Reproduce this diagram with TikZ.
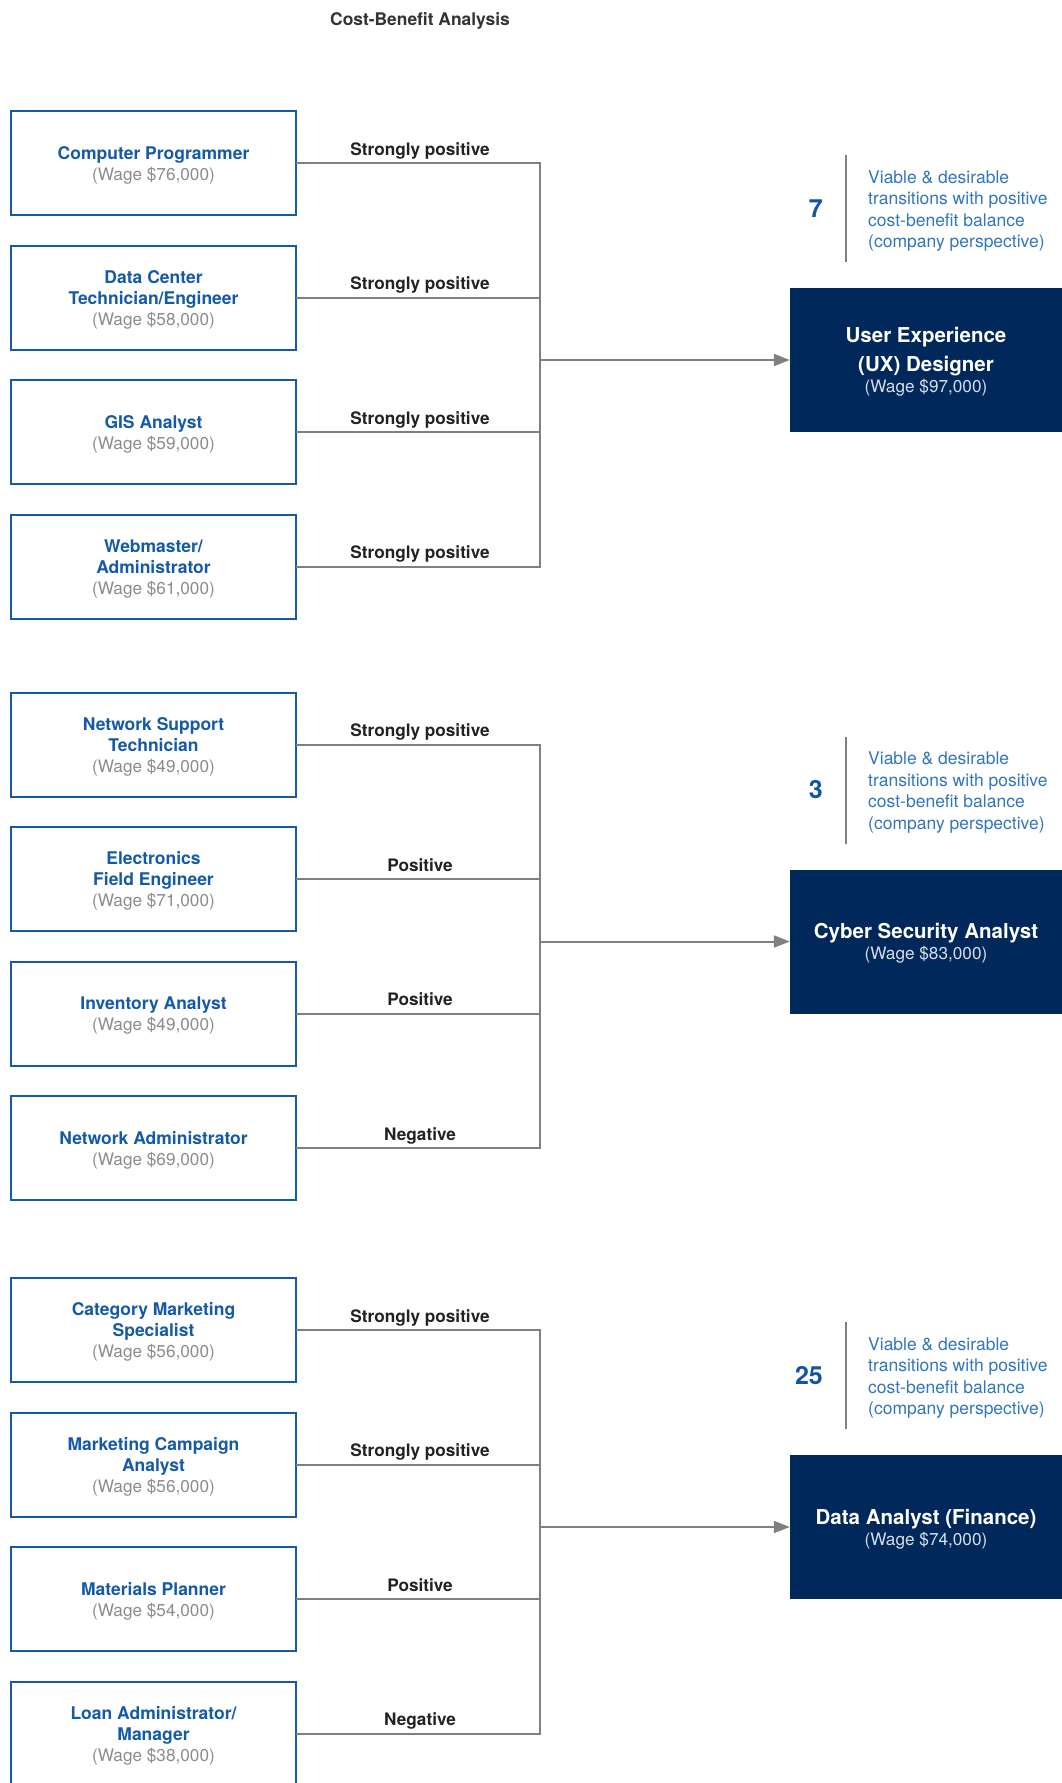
\documentclass[tikz,border=0pt]{standalone}
\usepackage{fontspec}
\setmainfont{TeX Gyre Heros}
\usetikzlibrary{arrows.meta, positioning}
\definecolor{jobblue}{RGB}{20,90,165}
\definecolor{navy}{RGB}{0,40,90}
\definecolor{wagegray}{RGB}{140,140,140}
\definecolor{lightwage}{RGB}{215,222,235}
\definecolor{linkgray}{RGB}{128,128,128}
\definecolor{infoblue}{RGB}{50,118,188}
\definecolor{numblue}{RGB}{15,85,160}
\definecolor{labelcolor}{RGB}{34,34,34}
\definecolor{titlecolor}{RGB}{51,51,51}
\newcommand{\jobfont}{\fontsize{17.5}{21}\selectfont\lineskiplimit-50pt\relax}
\newcommand{\targetfont}{\fontsize{20.5}{29.5}\selectfont\bfseries\lineskiplimit-50pt\relax}
\tikzset{
  jobbox/.style = {draw=jobblue, line width=2pt, minimum width=285pt, minimum height=104pt,
                   align=center, inner sep=0pt, font=\jobfont},
  target/.style = {fill=navy, minimum width=272pt, minimum height=144pt, align=center,
                   inner sep=0pt, text=white, font=\targetfont},
  link/.style   = {draw=linkgray, line width=2pt, line cap=rect},
  arrow/.style  = {link, -{Triangle[length=16pt, width=12pt]}},
  rating/.style = {anchor=base, inner sep=0pt, text=labelcolor,
                   font=\fontsize{17.2}{21}\selectfont\bfseries},
  count/.style  = {anchor=east, inner sep=0pt, text=numblue,
                   font=\fontsize{25}{25}\selectfont\bfseries},
  note/.style   = {anchor=west, align=left, inner sep=0pt, text=infoblue,
                   font=\fontsize{17.5}{21.5}\selectfont},
  sep/.style    = {draw=linkgray, line width=2pt},
  heading/.style= {text=titlecolor, font=\fontsize{17.4}{20}\selectfont\bfseries},
}
\newcommand{\role}[1]{{\vrule width 0pt height 17.7pt\bfseries\color{jobblue}#1}}
\newcommand{\pay}[1]{{\fontsize{17.2}{21}\selectfont\color{wagegray}(Wage \$#1)}}
\newcommand{\tpay}[1]{{\fontsize{17.2}{21}\selectfont\mdseries\color{lightwage}(Wage \$#1)}}
\newcommand{\tstrut}{\vrule width 0pt height 19pt\relax}
\newcommand{\notetext}{Viable \& desirable\\transitions with positive\\cost-benefit balance\\(company perspective)}

\begin{document}
\begin{tikzpicture}[x=1pt, y=-1pt]
  \fill[white] (0,0) rectangle (1062,1783);
  \useasboundingbox (0,0) rectangle (1062,1783);
  \node[heading] (title) at (420,21.3) {Cost-Benefit Analysis};

  % group 1: UX designer
  \foreach \i/\who/\rate in {
      1/{\role{Computer Programmer}\\\pay{76,000}}/Strongly positive,
      2/{\role{Data Center}\\\role{Technician/Engineer}\\\pay{58,000}}/Strongly positive,
      3/{\role{GIS Analyst}\\\pay{59,000}}/Strongly positive,
      4/{\role{Webmaster/}\\\role{Administrator}\\\pay{61,000}}/Strongly positive} {
    \node[jobbox] (a\i) at (153.5,{163+(\i-1)*134.5}) {\who};
    \coordinate (ja\i) at (540,{163+(\i-1)*134.5});
    \draw[link] (a\i.east) -- (ja\i);
    \node[rating] (ra\i) at (420,{155+(\i-1)*134.5}) {\rate};
  }
  \draw[link] (ja1) -- (ja4);
  \node[target] (ux) at (926,360) {\tstrut User Experience\\(UX) Designer\\[-8.5pt]\tpay{97,000}};
  \draw[arrow] (ja1 |- ux.west) -- (ux.west);
  \node[count] (na) at (823,208.5) {7};
  \draw[sep] (846,155) -- (846,262);
  \node[note] (ta) at (868,211.1) {\notetext};

  % group 2: cyber security analyst
  \foreach \i/\who/\rate in {
      1/{\role{Network Support}\\\role{Technician}\\\pay{49,000}}/Strongly positive,
      2/{\role{Electronics}\\\role{Field Engineer}\\\pay{71,000}}/Positive,
      3/{\role{Inventory Analyst}\\\pay{49,000}}/Positive,
      4/{\role{Network Administrator}\\\pay{69,000}}/Negative} {
    \node[jobbox] (b\i) at (153.5,{744.5+(\i-1)*134.5}) {\who};
    \coordinate (jb\i) at (540,{744.5+(\i-1)*134.5});
    \draw[link] (b\i.east) -- (jb\i);
    \node[rating] (rb\i) at (420,{736.5+(\i-1)*134.5}) {\rate};
  }
  \draw[link] (jb1) -- (jb4);
  \node[target] (cyber) at (926,941.5) {\tstrut Cyber Security Analyst\\[-8.5pt]\tpay{83,000}};
  \draw[arrow] (jb1 |- cyber.west) -- (cyber.west);
  \node[count] (nb) at (823,790) {3};
  \draw[sep] (846,736.5) -- (846,843.5);
  \node[note] (tb) at (868,792.6) {\notetext};

  % group 3: data analyst
  \foreach \i/\who/\rate in {
      1/{\role{Category Marketing}\\\role{Specialist}\\\pay{56,000}}/Strongly positive,
      2/{\role{Marketing Campaign}\\\role{Analyst}\\\pay{56,000}}/Strongly positive,
      3/{\role{Materials Planner}\\\pay{54,000}}/Positive,
      4/{\role{Loan Administrator/}\\\role{Manager}\\\pay{38,000}}/Negative} {
    \node[jobbox] (c\i) at (153.5,{1330+(\i-1)*134.5}) {\who};
    \coordinate (jc\i) at (540,{1330+(\i-1)*134.5});
    \draw[link] (c\i.east) -- (jc\i);
    \node[rating] (rc\i) at (420,{1322+(\i-1)*134.5}) {\rate};
  }
  \draw[link] (jc1) -- (jc4);
  \node[target] (data) at (926,1527) {\tstrut Data Analyst (Finance)\\[-8.5pt]\tpay{74,000}};
  \draw[arrow] (jc1 |- data.west) -- (data.west);
  \node[count] (nc) at (823,1375.5) {25};
  \draw[sep] (846,1322) -- (846,1429);
  \node[note] (tc) at (868,1378.1) {\notetext};
\end{tikzpicture}
\end{document}
